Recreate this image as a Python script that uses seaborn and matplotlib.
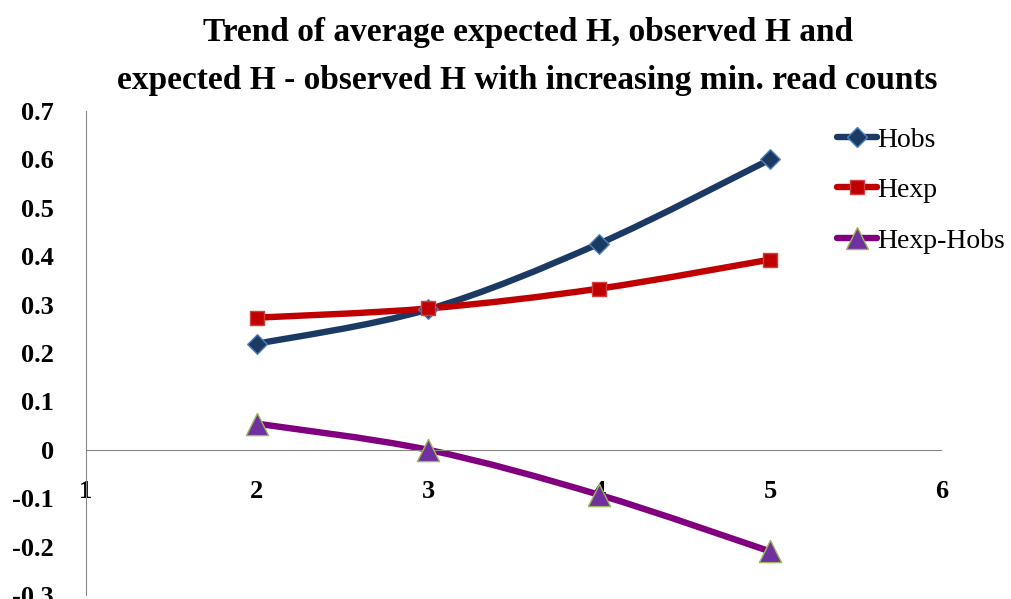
import numpy as np
import pandas as pd
import matplotlib
matplotlib.use("Agg")
import matplotlib.pyplot as plt
import matplotlib.patches as mpatches
from matplotlib.path import Path
from matplotlib.lines import Line2D
import seaborn as sns

# Data
min_read_counts = [2, 3, 4, 5]
h_obs = [0.219, 0.290, 0.426, 0.600]
h_exp = [0.273, 0.292, 0.333, 0.393]
h_diff = [0.054, 0.000, -0.093, -0.210]
series_names = ["Hobs", "Hexp", "Hexp-Hobs"]

df = pd.DataFrame({
    "count": min_read_counts * 3,
    "value": h_obs + h_exp + h_diff,
    "series": sum([[n] * len(min_read_counts) for n in series_names], []),
})

styles = {
    "Hobs": dict(color="#1B3A63", marker="D", mfc="#1B3A63", mec="#4F81BD", ms=10),
    "Hexp": dict(color="#C00000", marker="s", mfc="#C00000", mec="#D04040", ms=10.5),
    "Hexp-Hobs": dict(color="#800080", marker="^", mfc="#7030A0", mec="#9BBB59", ms=16),
}

sns.set_style("white")
plt.rcParams["font.family"] = ["Liberation Serif", "DejaVu Serif"]
plt.rcParams["text.color"] = "black"

fig = plt.figure(figsize=(10.11, 5.99), dpi=100)
ax = fig.add_axes([0.085, 0.0067, 0.846, 0.808])


def smooth_path(xs, ys):
    # Excel-like smoothed line: Catmull-Rom segments as cubic Beziers
    pts = list(zip(xs, ys))
    verts = [pts[0]]
    codes = [Path.MOVETO]
    n = len(pts)
    for i in range(n - 1):
        p0 = pts[max(i - 1, 0)]
        p1 = pts[i]
        p2 = pts[i + 1]
        p3 = pts[min(i + 2, n - 1)]
        c1 = (p1[0] + (p2[0] - p0[0]) / 6, p1[1] + (p2[1] - p0[1]) / 6)
        c2 = (p2[0] - (p3[0] - p1[0]) / 6, p2[1] - (p3[1] - p1[1]) / 6)
        verts += [c1, c2, p2]
        codes += [Path.CURVE4] * 3
    return Path(verts, codes)


handles = []
for name in series_names:
    st = styles[name]
    sub = df[df["series"] == name]
    patch = mpatches.PathPatch(smooth_path(sub["count"].tolist(), sub["value"].tolist()),
                               facecolor="none", edgecolor=st["color"], lw=4.6,
                               transform=ax.transData, zorder=2, capstyle="round")
    ax.add_patch(patch)
    sns.scatterplot(data=sub, x="count", y="value", marker=st["marker"],
                    color=st["mfc"], edgecolor=st["mec"], linewidth=1,
                    s=st["ms"] ** 2, ax=ax, zorder=3, legend=False)
    handles.append(Line2D([], [], color=st["color"], lw=4.6, marker=st["marker"],
                          mfc=st["mfc"], mec=st["mec"], ms=st["ms"],
                          solid_capstyle="round"))

ax.set_xlim(1, 6)
ax.set_ylim(-0.3, 0.7)
ax.set_xticks(range(1, 7))
ax.set_yticks(np.arange(-0.3, 0.71, 0.1))
ax.set_yticklabels(["-0.3", "-0.2", "-0.1", "0", "0.1", "0.2", "0.3", "0.4", "0.5", "0.6", "0.7"])
ax.set_xlabel("")
ax.set_ylabel("")

for side in ["top", "right"]:
    ax.spines[side].set_visible(False)
ax.spines["left"].set_color("#868686")
ax.spines["bottom"].set_color("#868686")
ax.spines["bottom"].set_position(("data", 0))
ax.tick_params(axis="both", colors="#868686", direction="out", length=8, width=1,
               labelcolor="black", labelsize=19)
ax.tick_params(axis="y", pad=15)
ax.tick_params(axis="x", pad=14)
for lbl in ax.get_xticklabels() + ax.get_yticklabels():
    lbl.set_fontweight("bold")

fig.text(0.522, 0.945, "Trend of average expected H, observed H and",
         ha="center", va="center", fontsize=24, fontweight="bold")
fig.text(0.522, 0.865, "expected H - observed H with increasing min. read counts",
         ha="center", va="center", fontsize=24, fontweight="bold")

fig.legend(handles, series_names, loc="upper left", bbox_to_anchor=(0.817, 0.806),
           frameon=False, fontsize=20, handlelength=1.45, handletextpad=0.0,
           labelspacing=0.9, borderaxespad=0)

fig.savefig("out.png", dpi=100)
